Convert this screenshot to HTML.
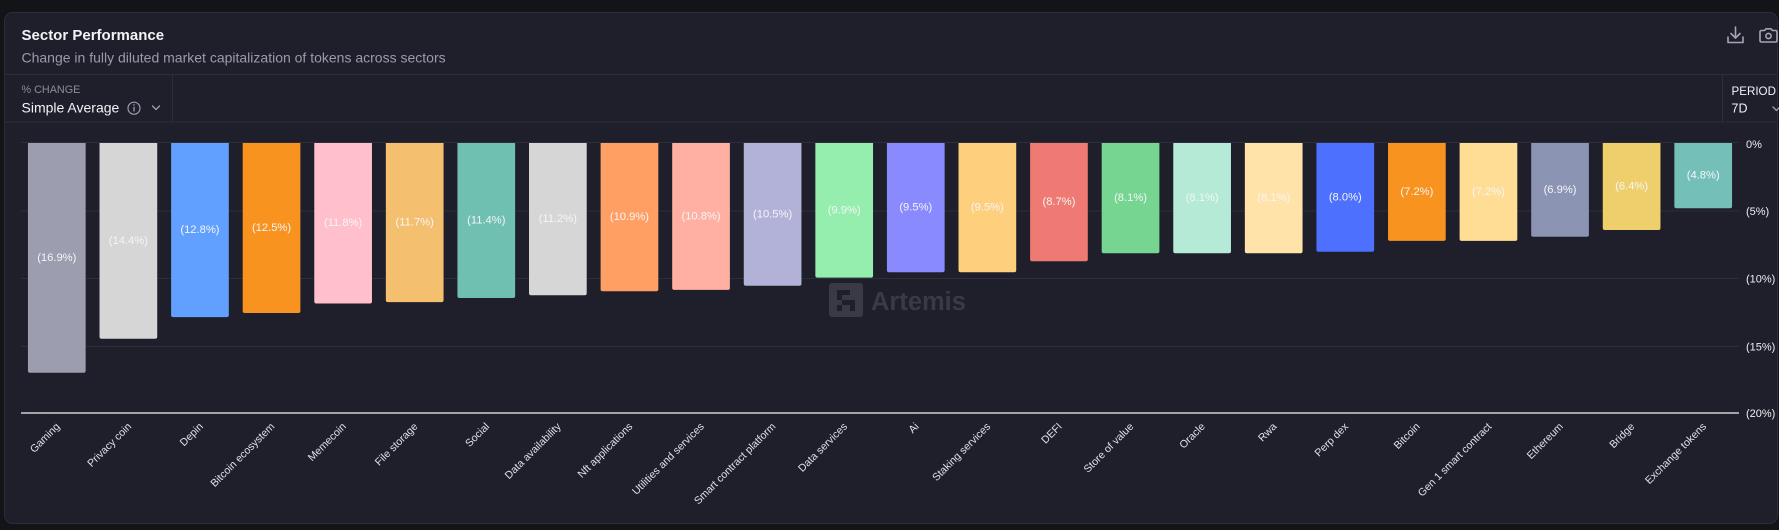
<!DOCTYPE html>
<html>
<head>
<meta charset="utf-8">
<style>
  html, body { margin:0; padding:0; background:#131418; }
  body { width:1779px; height:530px; overflow:hidden; }
  svg { display:block; font-family:"Liberation Sans", Arial, sans-serif; }
</style>
</head>
<body>
<svg width="1779" height="530" viewBox="0 0 1779 530" xmlns="http://www.w3.org/2000/svg">
  <rect x="0" y="0" width="1779" height="530" fill="#131418"/>
  <!-- card -->
  <rect x="4.5" y="12.5" width="1773" height="511" rx="8" ry="8" fill="#1e1f2a" stroke="#2b2d39" stroke-width="1"/>

  <!-- header -->
  <text x="21.5" y="40" font-size="15" font-weight="bold" fill="#f2f3f7">Sector Performance</text>
  <text x="21.5" y="62.5" font-size="14" fill="#9a9cab">Change in fully diluted market capitalization of tokens across sectors</text>

  <!-- download icon -->
  <g stroke="#a3a6b3" stroke-width="1.6" fill="none" stroke-linecap="round" stroke-linejoin="round">
    <path d="M1735.5 27 V38"/>
    <path d="M1731 33.5 L1735.5 38 L1740 33.5"/>
    <path d="M1728 37 V42.5 H1743 V37"/>
    <!-- camera icon -->
    <path d="M1760 32 Q1760 30.5 1761.5 30.5 H1764.5 L1766 28.8 H1771 L1772.5 30.5 H1775.5 Q1777 30.5 1777 32 V40.5 Q1777 42 1775.5 42 H1761.5 Q1760 42 1760 40.5 Z"/>
    <circle cx="1768.5" cy="36" r="2.6"/>
  </g>

  <!-- separators -->
  <line x1="5" y1="74.5" x2="1778" y2="74.5" stroke="#2c2e3a" stroke-width="1"/>
  <line x1="5" y1="122" x2="1778" y2="122" stroke="#2c2e3a" stroke-width="1"/>
  <line x1="172.5" y1="75" x2="172.5" y2="121.5" stroke="#2c2e3a" stroke-width="1"/>
  <line x1="1722.5" y1="75" x2="1722.5" y2="121.5" stroke="#2c2e3a" stroke-width="1"/>

  <!-- controls -->
  <text x="21.5" y="92.8" font-size="10.8" fill="#8b8d9a">% CHANGE</text>
  <text x="21.5" y="112.5" font-size="14" fill="#f2f3f7">Simple Average</text>
  <circle cx="134" cy="108.2" r="6" fill="none" stroke="#9a9cab" stroke-width="1.2"/>
  <line x1="134" y1="106.8" x2="134" y2="111.5" stroke="#9a9cab" stroke-width="1.3"/>
  <circle cx="134" cy="104.9" r="0.8" fill="#9a9cab"/>
  <path d="M152.5 106 L156 109.5 L159.5 106" fill="none" stroke="#9a9cab" stroke-width="1.4" stroke-linecap="round" stroke-linejoin="round"/>

  <text x="1731.5" y="95" font-size="11.6" fill="#f2f3f7">PERIOD</text>
  <text x="1731.5" y="112.7" font-size="12.5" fill="#f2f3f7">7D</text>
  <path d="M1773 107 L1776.5 110.5 L1780 107" fill="none" stroke="#9a9cab" stroke-width="1.4" stroke-linecap="round" stroke-linejoin="round"/>

  <!-- gridlines -->
  <g stroke="#2c2e3b" stroke-width="1">
    <line x1="21" y1="142.5" x2="1739" y2="142.5"/>
    <line x1="21" y1="211" x2="1739" y2="211"/>
    <line x1="21" y1="278.5" x2="1739" y2="278.5"/>
    <line x1="21" y1="346.5" x2="1739" y2="346.5"/>
  </g>

  <!-- watermark -->
  <g>
    <rect x="829" y="283" width="34" height="34" rx="3" fill="#393a45"/>
    <g fill="#1e1f2a">
      <rect x="837" y="290" width="13" height="5"/>
      <rect x="837" y="295" width="5" height="5"/>
      <rect x="842" y="300" width="13" height="5"/>
      <rect x="837" y="305" width="5" height="6"/>
      <rect x="850" y="305" width="5" height="6"/>
    </g>
    <text x="871" y="310" font-size="25.5" font-weight="bold" fill="#393a45">Artemis</text>
  </g>

  <!-- bars -->
  <g id="bars"></g>

  <!-- axis line -->
  <line x1="21" y1="413" x2="1739" y2="413" stroke="#f2f2f2" stroke-width="1.2"/>

  <!-- right axis labels -->
  <g font-size="11" fill="#eeeef2">
    <text x="1746" y="148">0%</text>
    <text x="1746" y="215">(5%)</text>
    <text x="1746" y="282.5">(10%)</text>
    <text x="1746" y="350.5">(15%)</text>
    <text x="1746" y="417">(20%)</text>
  </g>

  <!-- Bars drawn statically -->
  <g>
    <!-- generated: x = 21 + 71.583*i + 6.94, w=57.7 ; y from 143 to 143+v*13.6 -->
    <path d="M27.94 143 H85.64 V370.8 Q85.64 372.8 83.64 372.8 H29.94 Q27.94 372.8 27.94 370.8 Z" fill="#9d9db0"/>
    <path d="M99.52 143 H157.22 V336.8 Q157.22 338.8 155.22 338.8 H101.52 Q99.52 338.8 99.52 336.8 Z" fill="#d6d6d6"/>
    <path d="M171.11 143 H228.81 V315.1 Q228.81 317.1 226.81 317.1 H173.11 Q171.11 317.1 171.11 315.1 Z" fill="#62a0ff"/>
    <path d="M242.69 143 H300.39 V311 Q300.39 313 298.39 313 H244.69 Q242.69 313 242.69 311 Z" fill="#f7931e"/>
    <path d="M314.27 143 H371.97 V301.5 Q371.97 303.5 369.97 303.5 H316.27 Q314.27 303.5 314.27 301.5 Z" fill="#ffc0cb"/>
    <path d="M385.86 143 H443.56 V300.1 Q443.56 302.1 441.56 302.1 H387.86 Q385.86 302.1 385.86 300.1 Z" fill="#f4c070"/>
    <path d="M457.44 143 H515.14 V296 Q515.14 298 513.14 298 H459.44 Q457.44 298 457.44 296 Z" fill="#6fc0b0"/>
    <path d="M529.02 143 H586.72 V293.3 Q586.72 295.3 584.72 295.3 H531.02 Q529.02 295.3 529.02 293.3 Z" fill="#d6d6d6"/>
    <path d="M600.60 143 H658.30 V289.2 Q658.30 291.2 656.30 291.2 H602.60 Q600.60 291.2 600.60 289.2 Z" fill="#ff9f64"/>
    <path d="M672.19 143 H729.89 V287.9 Q729.89 289.9 727.89 289.9 H674.19 Q672.19 289.9 672.19 287.9 Z" fill="#ffb0a2"/>
    <path d="M743.77 143 H801.47 V283.8 Q801.47 285.8 799.47 285.8 H745.77 Q743.77 285.8 743.77 283.8 Z" fill="#b2b2d8"/>
    <path d="M815.35 143 H873.05 V275.6 Q873.05 277.6 871.05 277.6 H817.35 Q815.35 277.6 815.35 275.6 Z" fill="#96eeae"/>
    <path d="M886.94 143 H944.64 V270.2 Q944.64 272.2 942.64 272.2 H888.94 Q886.94 272.2 886.94 270.2 Z" fill="#8a8aff"/>
    <path d="M958.52 143 H1016.22 V270.2 Q1016.22 272.2 1014.22 272.2 H960.52 Q958.52 272.2 958.52 270.2 Z" fill="#fed07e"/>
    <path d="M1030.10 143 H1087.80 V259.3 Q1087.80 261.3 1085.80 261.3 H1032.10 Q1030.10 261.3 1030.10 259.3 Z" fill="#ef7a74"/>
    <path d="M1101.69 143 H1159.39 V251.2 Q1159.39 253.2 1157.39 253.2 H1103.69 Q1101.69 253.2 1101.69 251.2 Z" fill="#76d691"/>
    <path d="M1173.27 143 H1230.97 V251.2 Q1230.97 253.2 1228.97 253.2 H1175.27 Q1173.27 253.2 1173.27 251.2 Z" fill="#b4ead6"/>
    <path d="M1244.85 143 H1302.55 V251.2 Q1302.55 253.2 1300.55 253.2 H1246.85 Q1244.85 253.2 1244.85 251.2 Z" fill="#ffe3a8"/>
    <path d="M1316.44 143 H1374.14 V249.8 Q1374.14 251.8 1372.14 251.8 H1318.44 Q1316.44 251.8 1316.44 249.8 Z" fill="#4d70ff"/>
    <path d="M1388.02 143 H1445.72 V238.9 Q1445.72 240.9 1443.72 240.9 H1390.02 Q1388.02 240.9 1388.02 238.9 Z" fill="#f7931e"/>
    <path d="M1459.60 143 H1517.30 V238.9 Q1517.30 240.9 1515.30 240.9 H1461.60 Q1459.60 240.9 1459.60 238.9 Z" fill="#ffdd94"/>
    <path d="M1531.19 143 H1588.89 V234.8 Q1588.89 236.8 1586.89 236.8 H1533.19 Q1531.19 236.8 1531.19 234.8 Z" fill="#8c94b4"/>
    <path d="M1602.77 143 H1660.47 V228 Q1660.47 230 1658.47 230 H1604.77 Q1602.77 230 1602.77 228 Z" fill="#efcf6c"/>
    <path d="M1674.35 143 H1732.05 V206.3 Q1674.35 143 1674.35 143 Z" fill="none"/>
    <path d="M1674.35 143 H1732.05 V206.3 Q1732.05 208.3 1730.05 208.3 H1676.35 Q1674.35 208.3 1674.35 206.3 Z" fill="#74c0b9"/>
  </g>

  <!-- value labels -->
  <g font-size="11.2" fill="#f5f5f7" text-anchor="middle" dominant-baseline="central">
    <text x="56.79" y="258">(16.9%)</text>
    <text x="128.37" y="241">(14.4%)</text>
    <text x="199.96" y="230">(12.8%)</text>
    <text x="271.54" y="228">(12.5%)</text>
    <text x="343.12" y="223.2">(11.8%)</text>
    <text x="414.71" y="222.5">(11.7%)</text>
    <text x="486.29" y="220.5">(11.4%)</text>
    <text x="557.87" y="219.1">(11.2%)</text>
    <text x="629.45" y="217.1">(10.9%)</text>
    <text x="701.04" y="216.4">(10.8%)</text>
    <text x="772.62" y="214.4">(10.5%)</text>
    <text x="844.20" y="210.3">(9.9%)</text>
    <text x="915.79" y="207.6">(9.5%)</text>
    <text x="987.37" y="207.6">(9.5%)</text>
    <text x="1058.95" y="202.1">(8.7%)</text>
    <text x="1130.54" y="198.1">(8.1%)</text>
    <text x="1202.12" y="198.1">(8.1%)</text>
    <text x="1273.70" y="198.1">(8.1%)</text>
    <text x="1345.29" y="197.4">(8.0%)</text>
    <text x="1416.87" y="192">(7.2%)</text>
    <text x="1488.45" y="192">(7.2%)</text>
    <text x="1560.04" y="189.9">(6.9%)</text>
    <text x="1631.62" y="186.5">(6.4%)</text>
    <text x="1703.20" y="175.7">(4.8%)</text>
  </g>

  <!-- category labels -->
  <g font-size="10.6" fill="#dde1ec" text-anchor="end" dominant-baseline="central">
    <text transform="translate(58.3,425) rotate(-45)">Gaming</text>
    <text transform="translate(129.9,425) rotate(-45)">Privacy coin</text>
    <text transform="translate(201.5,425) rotate(-45)">Depin</text>
    <text transform="translate(273.0,425) rotate(-45)">Bitcoin ecosystem</text>
    <text transform="translate(344.6,425) rotate(-45)">Memecoin</text>
    <text transform="translate(416.2,425) rotate(-45)">File storage</text>
    <text transform="translate(487.8,425) rotate(-45)">Social</text>
    <text transform="translate(559.4,425) rotate(-45)">Data availability</text>
    <text transform="translate(631.0,425) rotate(-45)">Nft applications</text>
    <text transform="translate(702.5,425) rotate(-45)">Utilities and services</text>
    <text transform="translate(774.1,425) rotate(-45)">Smart contract platform</text>
    <text transform="translate(845.7,425) rotate(-45)">Data services</text>
    <text transform="translate(917.3,425) rotate(-45)">Ai</text>
    <text transform="translate(988.9,425) rotate(-45)">Staking services</text>
    <text transform="translate(1060.5,425) rotate(-45)">DEFI</text>
    <text transform="translate(1132.0,425) rotate(-45)">Store of value</text>
    <text transform="translate(1203.6,425) rotate(-45)">Oracle</text>
    <text transform="translate(1275.2,425) rotate(-45)">Rwa</text>
    <text transform="translate(1346.8,425) rotate(-45)">Perp dex</text>
    <text transform="translate(1418.4,425) rotate(-45)">Bitcoin</text>
    <text transform="translate(1490.0,425) rotate(-45)">Gen 1 smart contract</text>
    <text transform="translate(1561.5,425) rotate(-45)">Ethereum</text>
    <text transform="translate(1633.1,425) rotate(-45)">Bridge</text>
    <text transform="translate(1704.7,425) rotate(-45)">Exchange tokens</text>
  </g>
</svg>
</body>
</html>
